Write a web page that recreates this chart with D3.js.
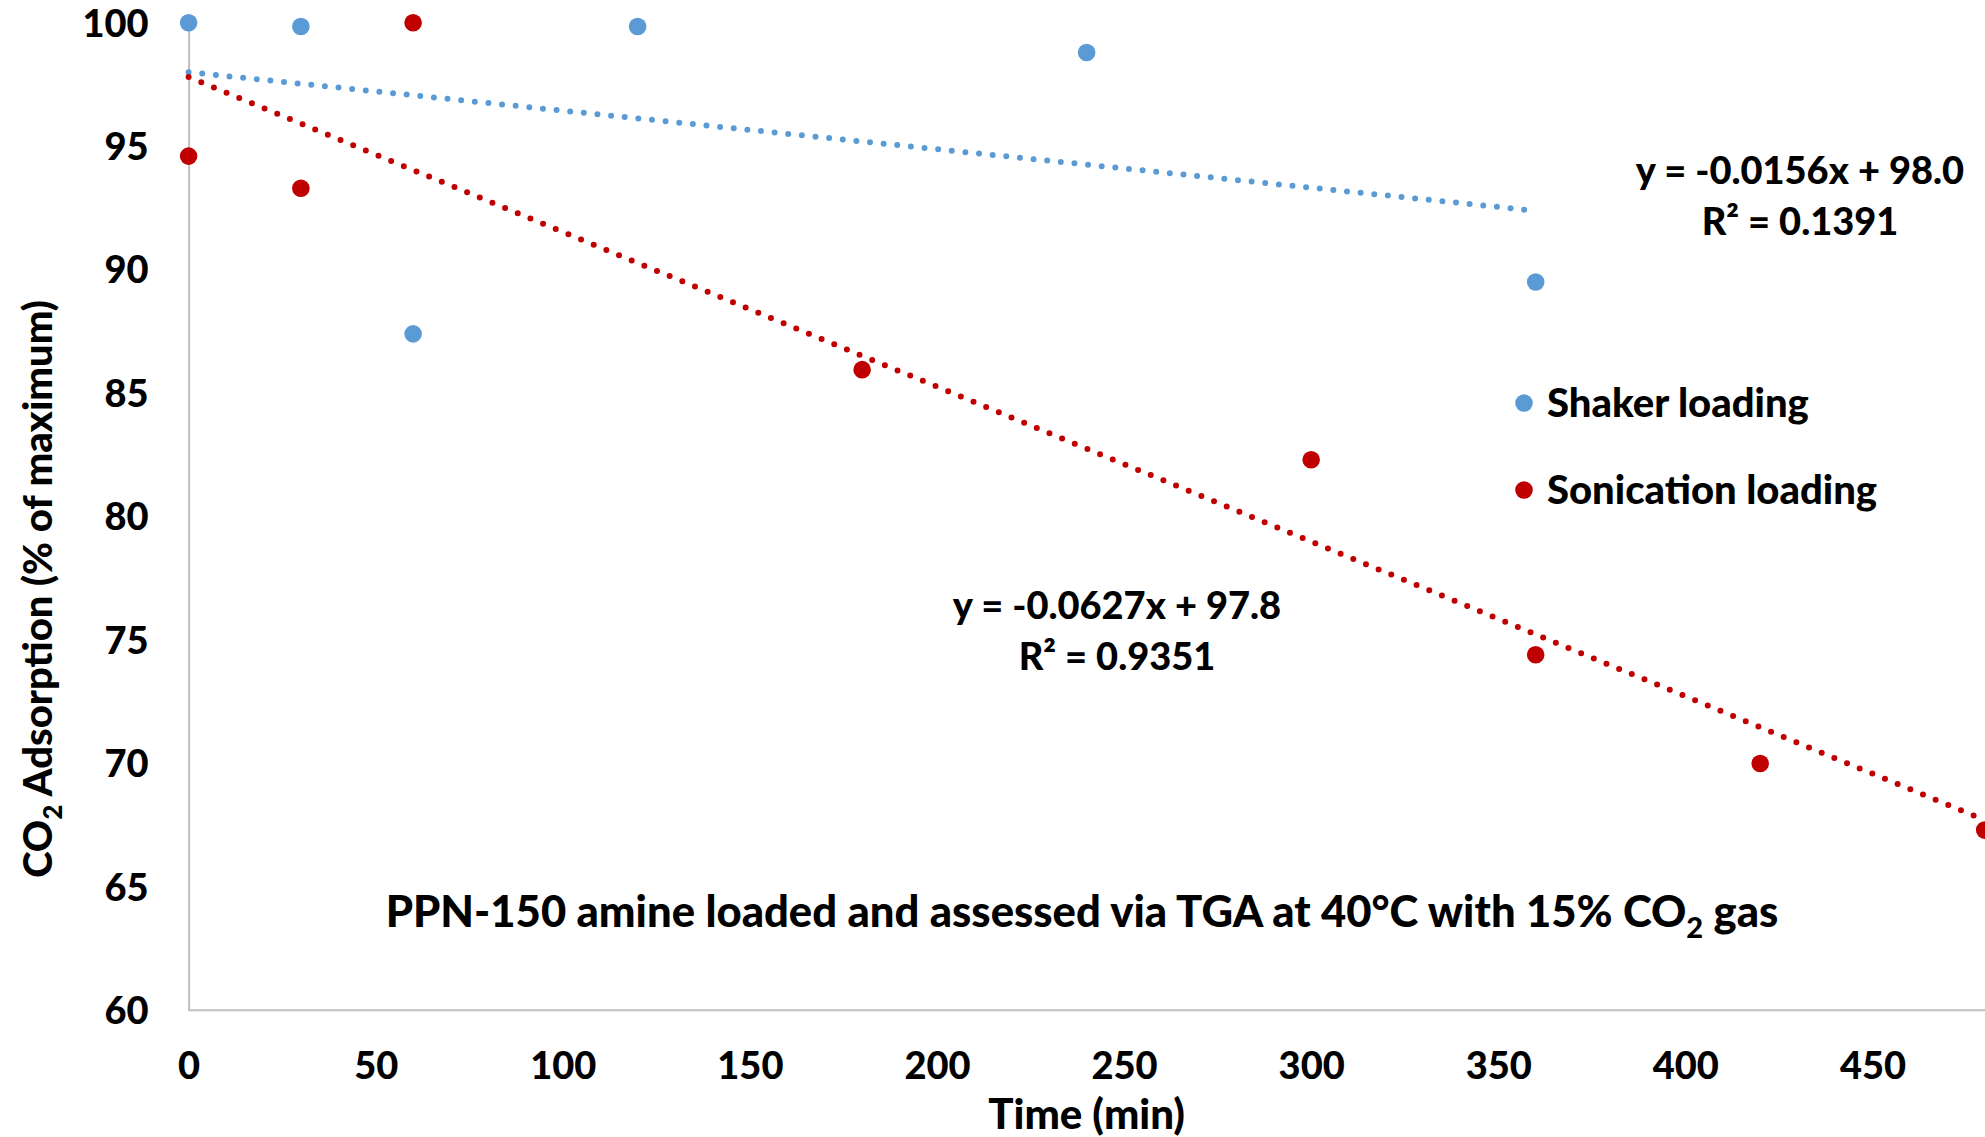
<!DOCTYPE html>
<html>
<head>
<meta charset="utf-8">
<script src="https://cdn.jsdelivr.net/npm/d3@7"></script>
<style>
  html, body { margin: 0; padding: 0; background: #fff; }
  svg { display: block; }
  text { font-family: Lato, "Open Sans", sans-serif; font-weight: 900; fill: #000; }
</style>
</head>
<body>
<svg id="chart" width="1985" height="1137"></svg>
<script>
// Shaker-loaded samples: time (min) and CO2 adsorption (% of maximum)
const shakerTime  = [0, 30, 60, 120, 240, 360];
const shakerValue = [100, 99.85, 87.4, 99.85, 98.8, 89.5];

// Sonication-loaded samples
const sonicTime  = [0, 30, 60, 180, 300, 360, 420, 480];
const sonicValue = [94.6, 93.3, 100, 85.95, 82.3, 74.4, 70.0, 67.3];

// Linear trendlines (slope, intercept, R²) and their x extents
const shakerFit = { slope: -0.0156, intercept: 98.0, r2: "0.1391", x0: 0, x1: 360 };
const sonicFit  = { slope: -0.0627, intercept: 97.8, r2: "0.9351", x0: 0, x1: 480 };

const xTicks = [0, 50, 100, 150, 200, 250, 300, 350, 400, 450];
const yTicks = [60, 65, 70, 75, 80, 85, 90, 95, 100];

const seriesNames = ["Shaker loading", "Sonication loading"];
const colors = ["#5B9BD5", "#C00000"];

const svg = d3.select("#chart");

const x = d3.scaleLinear().domain([0, 480]).range([188.6, 1984.7]);
const y = d3.scaleLinear().domain([60, 100]).range([1010.3, 22.8]);

// Axes: plain grey lines, no tick marks
const xAxis = d3.axisBottom(x).tickValues(xTicks).tickSize(0).tickPadding(42);
const yAxis = d3.axisLeft(y).tickValues(yTicks).tickSize(0).tickPadding(40);

const gx = svg.append("g").attr("transform", `translate(0,${y(60)})`).call(xAxis);
const gy = svg.append("g").attr("transform", `translate(${x(0)},0)`).call(yAxis);
[gx, gy].forEach(g => {
  g.select(".domain").attr("stroke", "#BFBFBF").attr("stroke-width", 2);
  g.selectAll(".tick text")
    .style("font-family", "Lato, 'Open Sans', sans-serif")
    .style("font-weight", 900)
    .style("font-size", "38px")
    .attr("fill", "#000");
});
gx.select(".domain").attr("d", `M${x(0)},0H1985`);
gy.selectAll(".tick text").attr("dy", "0.35em");

// Trendlines drawn from their equations, as round dots
function trend(fit, color) {
  const pts = [fit.x0, fit.x1].map(t => [x(t), y(fit.slope * t + fit.intercept)]);
  svg.append("path")
    .attr("d", d3.line()(pts))
    .attr("fill", "none")
    .attr("stroke", color)
    .attr("stroke-width", 6)
    .attr("stroke-linecap", "round")
    .attr("stroke-dasharray", "0 13.7");
}
trend(shakerFit, colors[0]);
trend(sonicFit, colors[1]);

// Data markers
function markers(times, values, color) {
  svg.append("g").selectAll("circle")
    .data(times.map((t, i) => [t, values[i]]))
    .join("circle")
    .attr("cx", d => x(d[0]))
    .attr("cy", d => y(d[1]))
    .attr("r", 8.8)
    .attr("fill", color);
}
markers(shakerTime, shakerValue, colors[0]);
markers(sonicTime, sonicValue, colors[1]);

// Trendline equations
function eqLabel(fit, cx, cy) {
  const sign = fit.intercept >= 0 ? "+" : "-";
  const t = svg.append("text").attr("text-anchor", "middle").style("font-size", "38px");
  t.append("tspan").attr("x", cx).attr("y", cy)
    .text(`y = ${fit.slope.toFixed(4)}x ${sign} ${Math.abs(fit.intercept).toFixed(1)}`);
  t.append("tspan").attr("x", cx).attr("y", cy + 51)
    .text(`R² = ${fit.r2}`);
}
eqLabel(shakerFit, 1800, 184);
eqLabel(sonicFit, 1117, 619);

// Legend
const legend = svg.append("g");
seriesNames.forEach((name, i) => {
  const ly = 403 + i * 87;
  legend.append("circle").attr("cx", 1524).attr("cy", ly).attr("r", 8.8).attr("fill", colors[i]);
  legend.append("text").attr("x", 1547).attr("y", ly).attr("dy", "0.35em")
    .style("font-size", "40px").text(name);
});

// In-plot caption
const cap = svg.append("text").attr("x", 1082).attr("y", 927)
  .attr("text-anchor", "middle").style("font-size", "43.6px");
cap.append("tspan").text("PPN-150 amine loaded and assessed via TGA at 40°C with 15% CO");
cap.append("tspan").attr("dy", 11).style("font-size", "29px").text("2");
cap.append("tspan").attr("dy", -11).text(" gas");

// Axis titles
svg.append("text").attr("x", x(240)).attr("y", 1129)
  .attr("text-anchor", "middle").style("font-size", "42px").text("Time (min)");

const yt = svg.append("text")
  .attr("transform", `translate(52,589) rotate(-90)`)
  .attr("text-anchor", "middle").style("font-size", "40px");
yt.append("tspan").text("CO");
yt.append("tspan").attr("dy", 10).style("font-size", "26px").text("2");
yt.append("tspan").attr("dy", -10).text(" Adsorption (% of maximum)");
</script>
</body>
</html>
